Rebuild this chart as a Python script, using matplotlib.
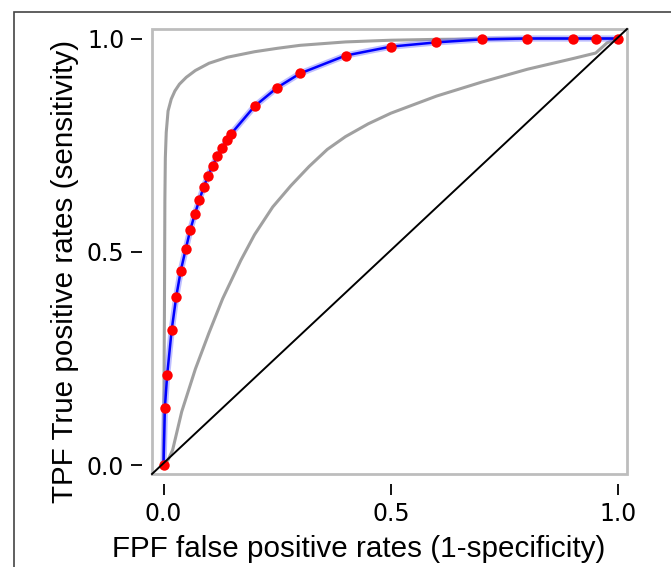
import numpy as np
import matplotlib.pyplot as plt
from matplotlib.patches import Rectangle

# ROC points (red dots, blue line)
fpf = [0, 0.003, 0.008, 0.018, 0.028, 0.038, 0.049, 0.059, 0.069, 0.079, 0.088, 0.098,
       0.108, 0.118, 0.129, 0.139, 0.149, 0.2, 0.25, 0.3, 0.4, 0.5, 0.6, 0.7, 0.8, 0.9, 0.95, 1.0]
tpf = [0, 0.134, 0.211, 0.317, 0.395, 0.456, 0.507, 0.552, 0.589, 0.622, 0.651, 0.678,
       0.702, 0.724, 0.743, 0.761, 0.777, 0.841, 0.885, 0.918, 0.960, 0.981, 0.991, 0.998, 1.0, 1.0, 1.0, 1.0]

# gray reference curves
upper_x = [0, 0.002, 0.003, 0.004, 0.006, 0.01, 0.017, 0.025, 0.035, 0.05, 0.07, 0.1, 0.14, 0.2,
           0.25, 0.3, 0.4, 0.5, 0.6, 0.8, 1.0]
upper_y = [0, 0.35, 0.62, 0.72, 0.78, 0.83, 0.858, 0.877, 0.893, 0.909, 0.925, 0.942, 0.956, 0.969,
           0.977, 0.984, 0.992, 0.996, 0.998, 1.0, 1.0]

lower_x = [0, 0.01, 0.02, 0.04, 0.07, 0.1, 0.13, 0.17, 0.2, 0.24, 0.28, 0.32, 0.36, 0.4, 0.45,
           0.5, 0.6, 0.7, 0.8, 0.9, 0.95, 0.975, 1.0]
lower_y = [0, 0.012, 0.035, 0.125, 0.225, 0.31, 0.39, 0.48, 0.54, 0.605, 0.655, 0.7, 0.74, 0.77, 0.8,
           0.825, 0.865, 0.898, 0.928, 0.953, 0.966, 0.99, 1.0]

ticks = [0.0, 0.5, 1.0]
tick_labels = ['0.0', '0.5', '1.0']

fig = plt.figure(figsize=(6.71, 5.67), dpi=100)
ax = fig.add_axes([152 / 671, 1 - 474 / 567, 475 / 671, 445 / 567])

# frame around the whole picture (runs off the right and bottom)
fig.patches.append(Rectangle((14 / 671, -0.1), 1.2, 1.1 - 12 / 567, transform=fig.transFigure,
                             fill=False, edgecolor='#444444', lw=1.2, clip_on=False))

ax.plot(upper_x, upper_y, '-', c='#a0a0a0', lw=2.2, zorder=2)
ax.plot(lower_x, lower_y, '-', c='#a0a0a0', lw=2.2, zorder=2)
ax.plot(fpf, tpf, '-', c='#7070ff', lw=4.5, alpha=0.45, zorder=3)
ax.plot(fpf, tpf, '-', c='blue', lw=1.8, zorder=4)
ax.plot(fpf, tpf, 'o', c='red', ms=7.5, mec='none', zorder=5)
ax.plot([0, 1], [0, 1], '-', c='black', lw=1.4, transform=ax.transAxes, zorder=6, clip_on=False)

ax.set_xlim(-0.0253, 1.0187)
ax.set_ylim(-0.0211, 1.0223)

# box drawn separately so the ticks can sit away from it
for s in ax.spines.values():
    s.set_visible(False)
ax.spines['left'].set_position(('outward', 7.5))
ax.spines['bottom'].set_position(('outward', 7.5))
ax.add_patch(Rectangle((0, 0), 1, 1, transform=ax.transAxes, fill=False,
                       edgecolor='#bdbdbd', lw=2, zorder=1, clip_on=False))

ax.set_xticks(ticks, tick_labels)
ax.set_yticks(ticks, tick_labels)
ax.tick_params(axis='both', length=8, width=1.3, color='black', labelsize=17, pad=4.5)

fig.text(358.5 / 671, 1 - 557 / 567, 'FPF false positive rates (1-specificity)',
         fontsize=21.3, family='Liberation Sans', ha='center', va='baseline')
fig.text(73 / 671, 1 - 271 / 567, 'TPF True positive rates (sensitivity)',
         fontsize=21.3, family='Liberation Sans', ha='center', va='baseline',
         rotation=90, rotation_mode='anchor')

plt.savefig('out.png', dpi=100)
